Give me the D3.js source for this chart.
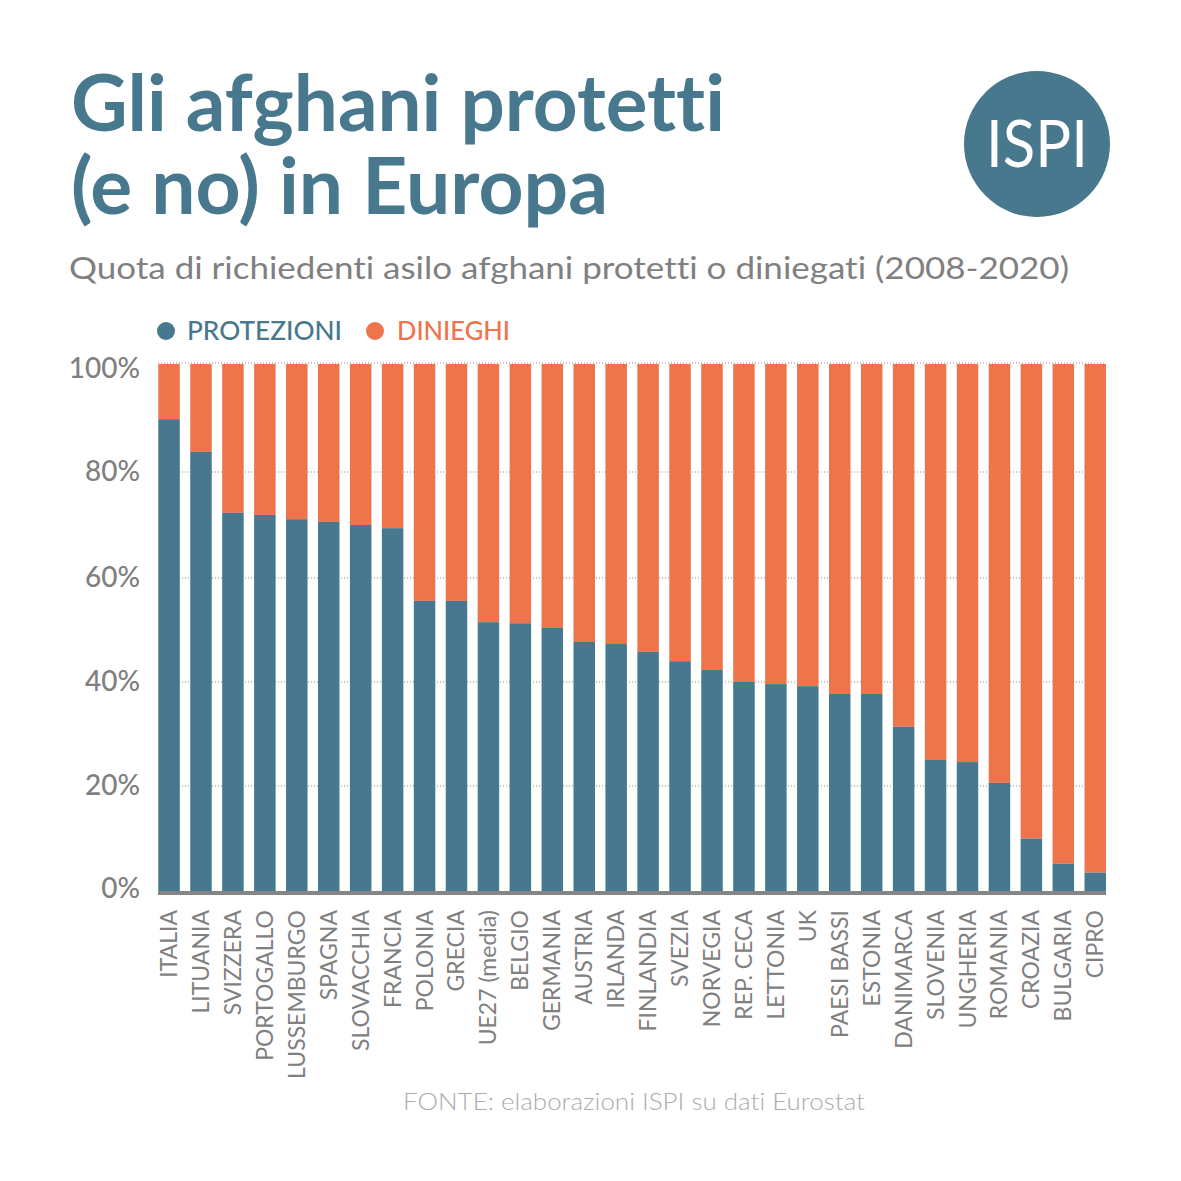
<!DOCTYPE html>
<html>
<head>
<meta charset="utf-8">
<script src="https://cdn.jsdelivr.net/npm/d3@7"></script>
<style>
  html, body { margin: 0; padding: 0; background: #fff; }
  svg { display: block; }
  text { font-family: Lato, sans-serif; font-variant-ligatures: none; }
</style>
</head>
<body>
<svg id="chart" width="1181" height="1181"></svg>
<script>
// values
const countries = ["ITALIA","LITUANIA","SVIZZERA","PORTOGALLO","LUSSEMBURGO","SPAGNA","SLOVACCHIA","FRANCIA","POLONIA","GRECIA","UE27 (media)","BELGIO","GERMANIA","AUSTRIA","IRLANDA","FINLANDIA","SVEZIA","NORVEGIA","REP. CECA","LETTONIA","UK","PAESI BASSI","ESTONIA","DANIMARCA","SLOVENIA","UNGHERIA","ROMANIA","CROAZIA","BULGARIA","CIPRO"];
const protezioni = [89.7,83.7,72.3,71.9,71.1,70.6,70,69.4,55.6,55.6,51.5,51.3,50.4,47.7,47.3,45.8,44,42.3,40,39.6,39.2,37.7,37.7,31.4,25,24.6,20.6,10,5.2,3.5];
const yTicks = [0,20,40,60,80,100];

const BLUE = "#47788d", ORANGE = "#ee744c", GREY = "#808080";
const plotLeft = 151, plotRight = 1112;

const svg = d3.select("#chart");
const x = d3.scaleBand().domain(countries).range([158.3, 1106]).paddingInner(0.327).paddingOuter(0);
// the gridlines in the original are not quite evenly spaced, hence the piecewise range
const y = d3.scaleLinear().domain(yTicks).range([891, 786, 682, 578, 472, 363]);

// title block
const title = svg.append("g").attr("fill", BLUE).attr("font-weight", 700).attr("font-size", 78);
title.append("text").attr("x", 71).attr("y", 131).attr("textLength", 654).attr("lengthAdjust", "spacingAndGlyphs").text("Gli afghani protetti");
title.append("text").attr("x", 71).attr("y", 214).attr("textLength", 537).attr("lengthAdjust", "spacingAndGlyphs").text("(e no) in Europa");

svg.append("text").attr("x", 69).attr("y", 279).attr("fill", GREY).attr("font-size", 31)
  .attr("textLength", 1000).attr("lengthAdjust", "spacingAndGlyphs")
  .text("Quota di richiedenti asilo afghani protetti o diniegati (2008-2020)");

// ISPI badge
svg.append("circle").attr("cx", 1037).attr("cy", 144).attr("r", 73).attr("fill", BLUE);
svg.append("text").attr("x", 986).attr("y", 167).attr("fill", "#fff")
  .attr("font-weight", 400).attr("font-size", 65)
  .attr("textLength", 102).attr("lengthAdjust", "spacingAndGlyphs").text("ISPI");

// legend
const legend = [["PROTEZIONI", BLUE, 166, 187, 155], ["DINIEGHI", ORANGE, 375, 397, 113]];
legend.forEach(([label, color, cx, tx, len]) => {
  svg.append("circle").attr("cx", cx).attr("cy", 331).attr("r", 9).attr("fill", color);
  svg.append("text").attr("x", tx).attr("y", 340).attr("fill", color).attr("font-size", 27)
    .attr("font-weight", 500).attr("textLength", len).attr("lengthAdjust", "spacingAndGlyphs").text(label);
});

// gridlines and y labels
svg.append("g").selectAll("line").data(yTicks.filter(d => d > 0)).join("line")
  .attr("x1", plotLeft + 7).attr("x2", plotRight - 6).attr("y1", d => y(d)).attr("y2", d => y(d))
  .attr("stroke", "#8a8a8a").attr("stroke-width", 1).attr("stroke-dasharray", "1 2");
svg.append("g").selectAll("text").data(yTicks).join("text")
  .attr("x", 140).attr("y", d => y(d) + (d === 100 ? 15 : d === 0 ? 7 : 9)).attr("text-anchor", "end")
  .attr("fill", GREY).attr("font-size", 28).attr("font-weight", 500)
  .text(d => d + "%");

// bars
const bars = svg.append("g");
bars.selectAll("rect.den").data(countries).join("rect").attr("class", "den")
  .attr("x", d => x(d)).attr("width", x.bandwidth())
  .attr("y", y(100) + 1).attr("height", (d, i) => y(protezioni[i]) - y(100) - 1).attr("fill", ORANGE);
bars.selectAll("rect.pro").data(countries).join("rect").attr("class", "pro")
  .attr("x", d => x(d)).attr("width", x.bandwidth())
  .attr("y", (d, i) => y(protezioni[i])).attr("height", (d, i) => y(0) - y(protezioni[i])).attr("fill", BLUE);

// baseline
svg.append("line").attr("x1", plotLeft + 7).attr("x2", plotRight - 6).attr("y1", 893).attr("y2", 893)
  .attr("stroke", "#858585").attr("stroke-width", 4);

// rotated country labels
svg.append("g").selectAll("text").data(countries).join("text")
  .attr("transform", d => `translate(${x(d) + x.bandwidth() / 2 + 8},910) rotate(-90)`)
  .attr("text-anchor", "end").attr("fill", GREY).attr("font-size", 23)
  .text(d => d);

// source
svg.append("text").attr("x", 634).attr("y", 1110).attr("text-anchor", "middle").attr("fill", "#ababab")
  .attr("font-size", 23).attr("font-weight", 300)
  .attr("textLength", 462).attr("lengthAdjust", "spacingAndGlyphs")
  .text("FONTE: elaborazioni ISPI su dati Eurostat");
</script>
</body>
</html>
